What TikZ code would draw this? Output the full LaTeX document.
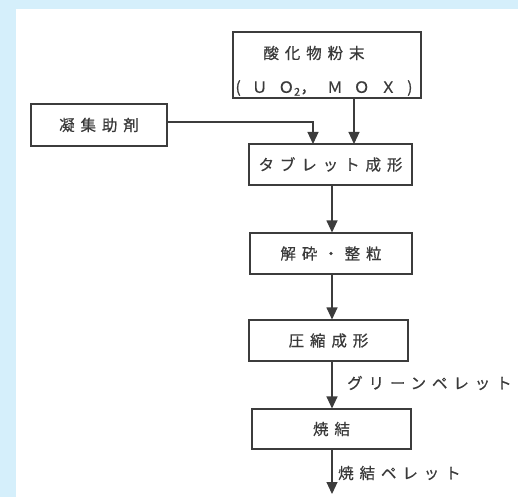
\documentclass[tikz,border=0pt]{standalone}
\usepackage{fontspec}
\newfontfamily\jp{Noto Sans CJK JP}[LetterSpace=38,FakeBold=0.6]
\newfontfamily\jpwide{Noto Sans CJK JP}[LetterSpace=72,FakeBold=0.6]
\usetikzlibrary{arrows.meta}
\definecolor{bgblue}{HTML}{D5EFFB}
\definecolor{ink}{HTML}{3C3C3C}
\definecolor{txt}{HTML}{3A3A3A}
\begin{document}
\begin{tikzpicture}[x=1pt,y=-1pt,
  box/.style={draw=ink, line width=1.1pt, rectangle, inner sep=0pt,
    font=\jp\fontsize{15.5}{17}\selectfont, text=txt},
  txtnode/.style={inner sep=0pt, font=\jp\fontsize{15.5}{17}\selectfont, text=txt},
  flow/.style={draw=ink, line width=1.1pt, -{Triangle[length=12pt,width=11pt]}},
  lbl/.style={inner sep=0pt, anchor=west, font=\jp\fontsize{15.5}{17}\selectfont, text=txt}]
\fill[bgblue] (0,0) rectangle (518,497);
\fill[white] (16,9) rectangle (518,497);
\useasboundingbox (0,0) rectangle (518,497);
% boxes
\node[box, minimum width=188pt, minimum height=66pt] (oxide) at (327,65) {};
\node[txtnode] (oxt1) at (314,53) {酸化物粉末};
\node[txtnode, font=\jpwide\fontsize{15.5}{17}\selectfont] (oxt2) at (324,88) {(ＵＯ\textsubscript{2}，ＭＯＸ)};
\node[box, minimum width=136pt, minimum height=42pt] (agg) at (99,125) {凝集助剤};
\node[box, minimum width=163pt, minimum height=41pt] (tablet) at (330.5,164.5) {タブレット成形};
\node[box, minimum width=162pt, minimum height=41pt] (crush) at (331,253.5) {解砕・整粒};
\node[box, minimum width=159pt, minimum height=41pt] (compress) at (328.5,340.5) {圧縮成形};
\node[box, minimum width=159pt, minimum height=40pt] (sinter) at (331.5,429) {焼結};
% coordinates
\coordinate (mx) at (332,0);
\coordinate (t1) at (313,144);
\coordinate (t2) at (354,144);
\coordinate (aggturn) at (313,122);
\coordinate (aggout) at (167,122);
\coordinate (fin) at (332,494);
% connectors
\draw[flow] (aggout) -- (aggturn) -- (t1);
\draw[flow] (oxide.south -| t2) -- (t2);
\draw[flow] (tablet.south -| mx) -- (crush.north -| mx);
\draw[flow] (crush.south -| mx) -- (compress.north -| mx);
\draw[flow] (compress.south -| mx) -- (sinter.north -| mx);
\draw[flow] (sinter.south -| mx) -- (fin);
% labels
\node[lbl] (gp) at (347,383) {グリーンペレット};
\node[lbl] (sp) at (338,473) {焼結ペレット};
\end{tikzpicture}
\end{document}
